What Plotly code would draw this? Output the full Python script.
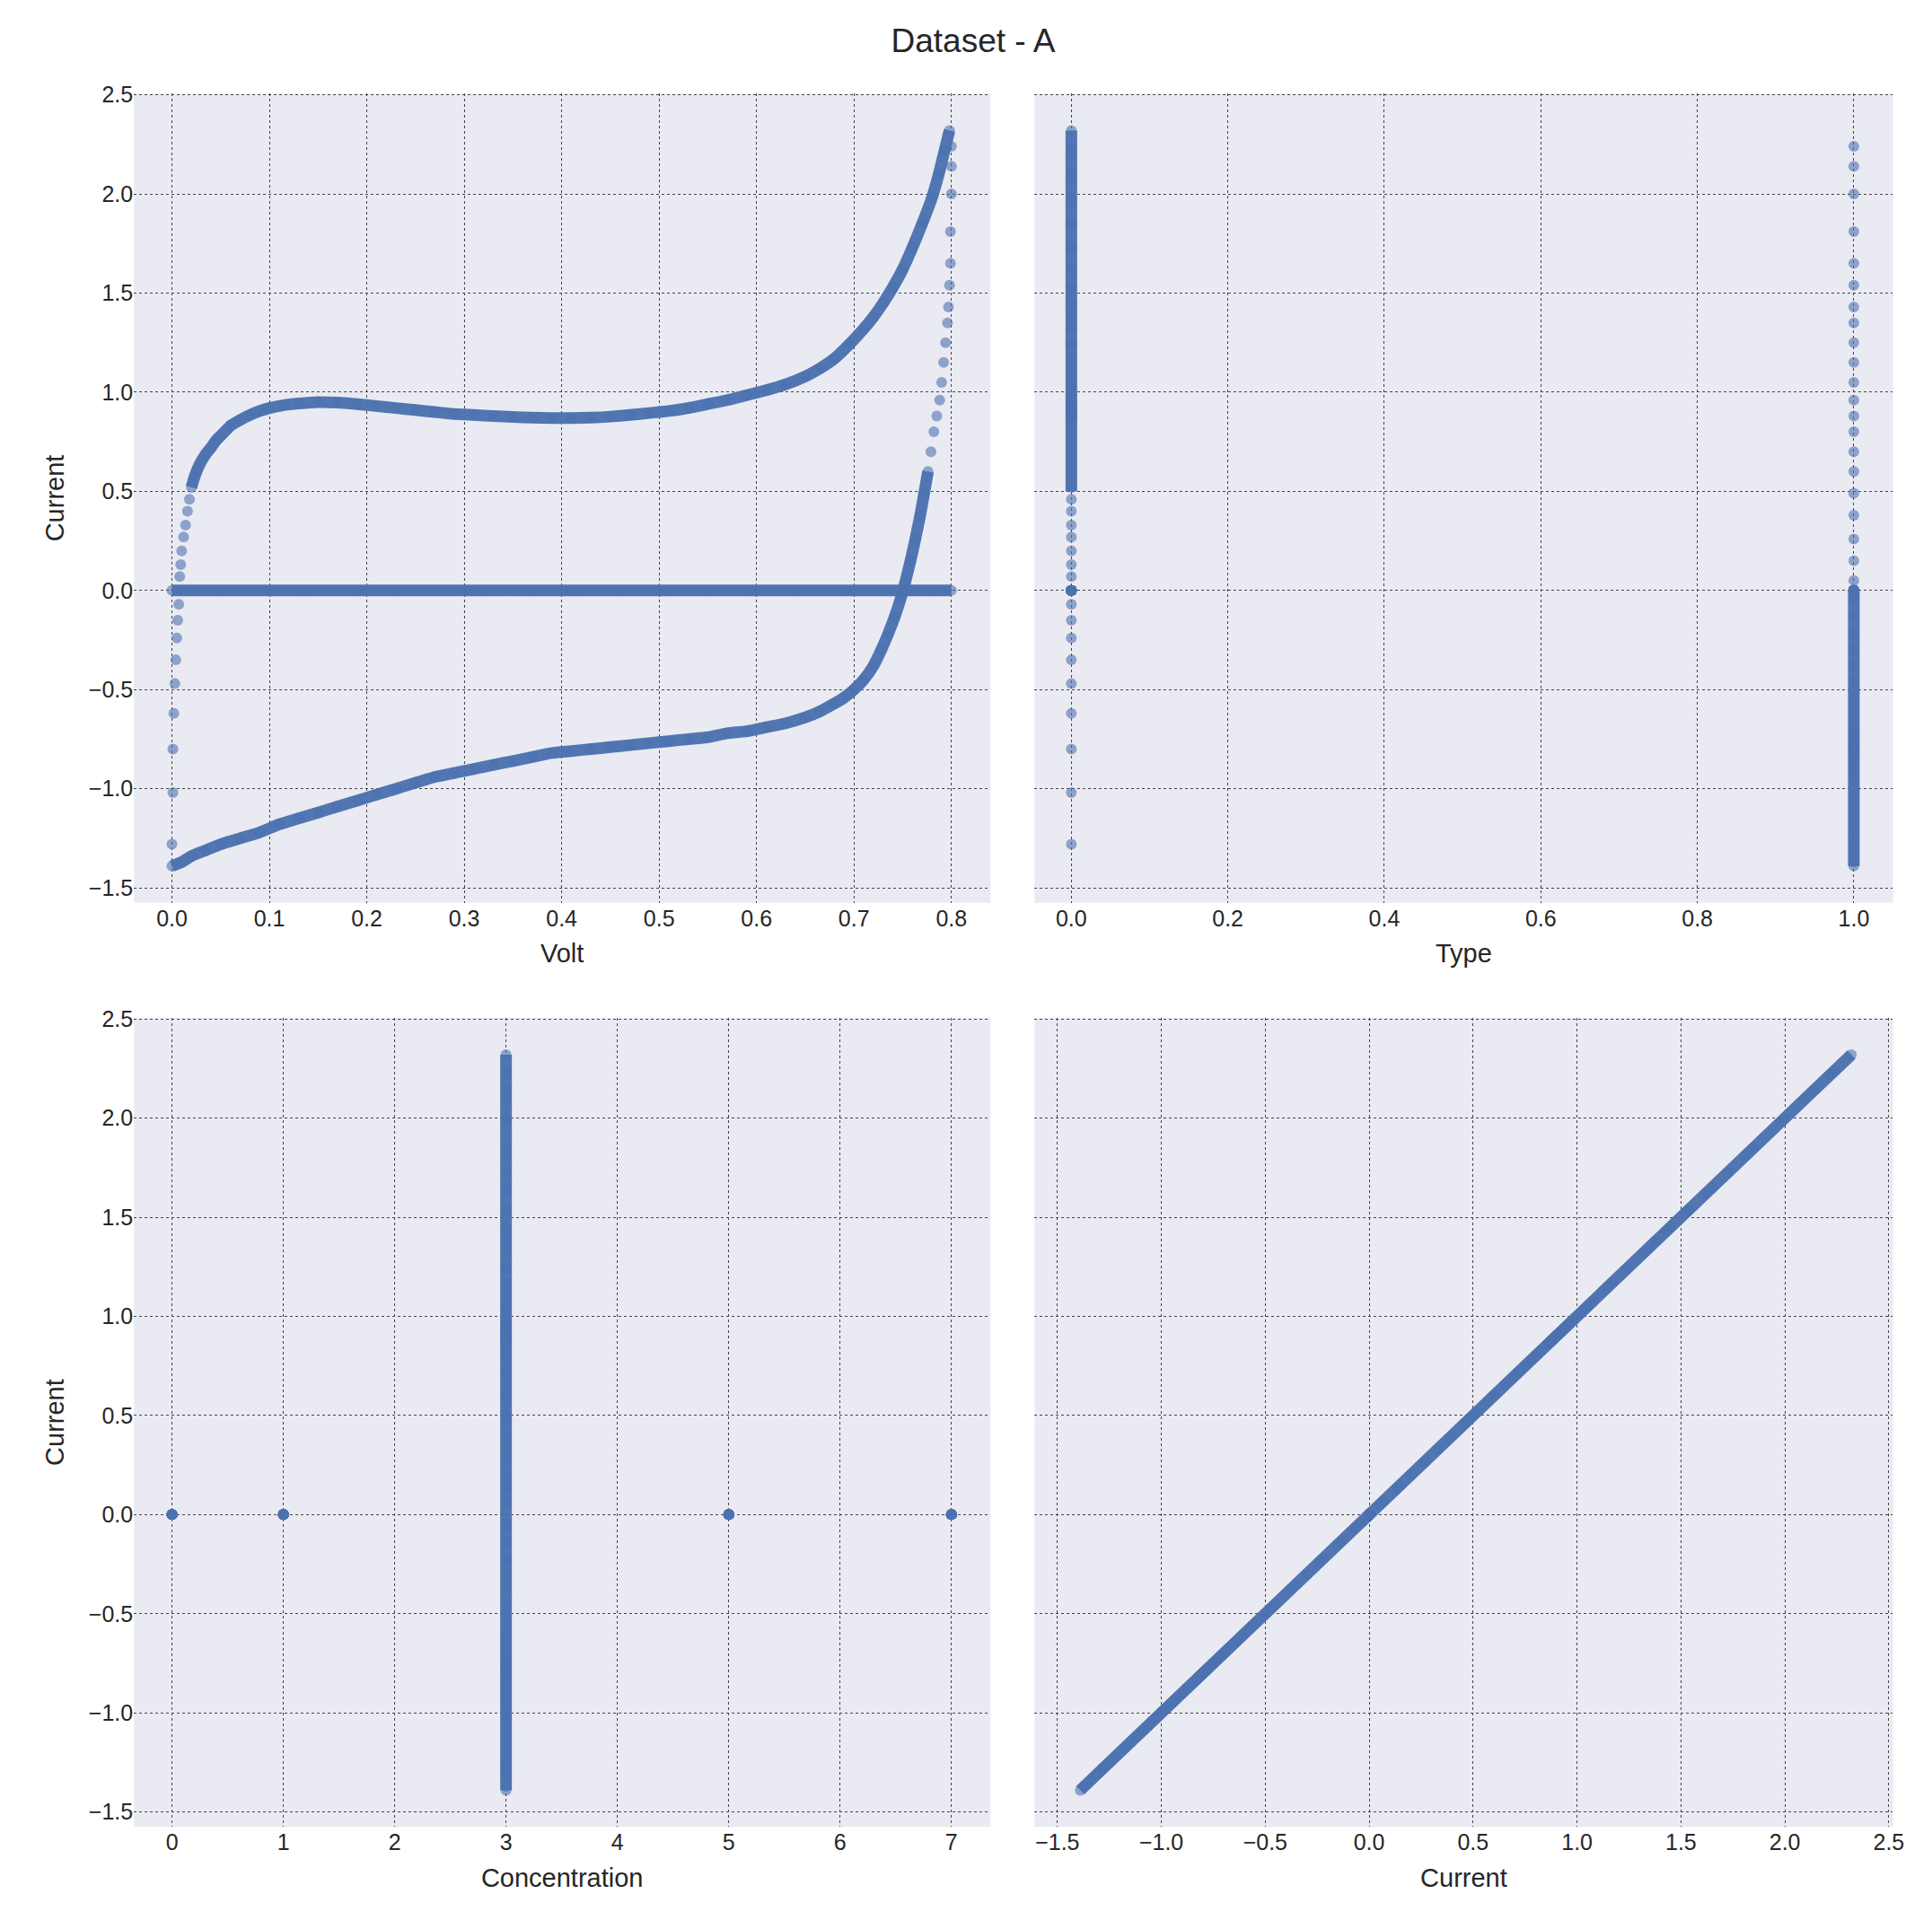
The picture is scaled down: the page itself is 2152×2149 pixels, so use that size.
import plotly.graph_objects as go

# forward branch (Type 0, Concentration 3)
up_volt = [0.0, 0.001, 0.001, 0.002, 0.003, 0.004, 0.005, 0.006, 0.007,
           0.008, 0.009, 0.010, 0.012, 0.014, 0.016, 0.018, 0.020, 0.023, 0.026, 0.030,
           0.035, 0.040, 0.045, 0.050, 0.060, 0.070, 0.080, 0.090, 0.100, 0.115, 0.130,
           0.150, 0.170, 0.190, 0.210, 0.230, 0.250, 0.270, 0.290, 0.310, 0.330, 0.350,
           0.370, 0.390, 0.410, 0.430, 0.450, 0.470, 0.490, 0.510, 0.530, 0.550, 0.570,
           0.590, 0.610, 0.630, 0.650, 0.665, 0.680, 0.695, 0.710, 0.720, 0.730, 0.740,
           0.750, 0.760, 0.770, 0.780, 0.787, 0.793, 0.798]
up_curr = [-1.28, -1.02, -0.80, -0.62, -0.47, -0.35, -0.24, -0.15, -0.07,
           0.07, 0.13, 0.20, 0.27, 0.33, 0.40, 0.46, 0.52, 0.57, 0.61, 0.65,
           0.69, 0.72, 0.755, 0.78, 0.83, 0.86, 0.885, 0.905, 0.92, 0.935, 0.943,
           0.95, 0.948, 0.94, 0.93, 0.92, 0.91, 0.90, 0.89, 0.885, 0.88, 0.875,
           0.872, 0.87, 0.87, 0.872, 0.877, 0.885, 0.895, 0.905, 0.92, 0.94, 0.96,
           0.985, 1.01, 1.04, 1.08, 1.12, 1.17, 1.24, 1.32, 1.38, 1.45, 1.53,
           1.62, 1.73, 1.85, 1.98, 2.10, 2.22, 2.32]

# reverse branch (Type 1, Concentration 3)
lo_volt = [0.0, 0.010, 0.020, 0.035, 0.050, 0.070, 0.090, 0.110, 0.130, 0.150,
           0.170, 0.190, 0.210, 0.230, 0.250, 0.270, 0.290, 0.310, 0.330, 0.350,
           0.370, 0.390, 0.410, 0.430, 0.450, 0.470, 0.490, 0.510, 0.530, 0.550,
           0.570, 0.590, 0.610, 0.630, 0.650, 0.665, 0.680, 0.690, 0.700, 0.710,
           0.720, 0.728, 0.735, 0.742, 0.748, 0.753, 0.758, 0.763, 0.768, 0.772,
           0.776, 0.779, 0.782, 0.785, 0.788, 0.790, 0.792, 0.794, 0.796, 0.797,
           0.798, 0.799, 0.799, 0.800, 0.800, 0.800]
lo_curr = [-1.39, -1.37, -1.34, -1.31, -1.28, -1.25, -1.22, -1.18, -1.15, -1.12,
           -1.09, -1.06, -1.03, -1.00, -0.97, -0.94, -0.92, -0.90, -0.88, -0.86,
           -0.84, -0.82, -0.81, -0.80, -0.79, -0.78, -0.77, -0.76, -0.75, -0.74,
           -0.72, -0.71, -0.69, -0.67, -0.64, -0.61, -0.57, -0.54, -0.50, -0.45,
           -0.38, -0.30, -0.22, -0.13, -0.04, 0.05, 0.15, 0.26, 0.38, 0.49,
           0.60, 0.70, 0.80, 0.88, 0.96, 1.05, 1.15, 1.25, 1.35, 1.43,
           1.54, 1.65, 1.81, 2.00, 2.14, 2.24]

# zero-current rows (Concentration 0, 1, 5, 7)
zero_volt = [0.00, 0.01, 0.02, 0.03, 0.04, 0.05, 0.06, 0.07, 0.08, 0.09,
             0.10, 0.11, 0.12, 0.13, 0.14, 0.15, 0.16, 0.17, 0.18, 0.19,
             0.20, 0.21, 0.22, 0.23, 0.24, 0.25, 0.26, 0.27, 0.28, 0.29,
             0.30, 0.31, 0.32, 0.33, 0.34, 0.35, 0.36, 0.37, 0.38, 0.39,
             0.40, 0.41, 0.42, 0.43, 0.44, 0.45, 0.46, 0.47, 0.48, 0.49,
             0.50, 0.51, 0.52, 0.53, 0.54, 0.55, 0.56, 0.57, 0.58, 0.59,
             0.60, 0.61, 0.62, 0.63, 0.64, 0.65, 0.66, 0.67, 0.68, 0.69,
             0.70, 0.71, 0.72, 0.73, 0.74, 0.75, 0.76, 0.77, 0.78, 0.79, 0.80]
zero_conc_levels = [0, 1, 5, 7]
zero_types = [0, 1]

volt = up_volt + lo_volt + zero_volt
typ = [0] * len(up_volt) + [1] * len(lo_volt) + [zero_types[i % 2] for i in range(len(zero_volt))]
conc = [3] * (len(up_volt) + len(lo_volt)) + [zero_conc_levels[i % 4] for i in range(len(zero_volt))]
curr = up_curr + lo_curr + [0.0] * len(zero_volt)

BLUE = "rgba(76,114,176,0.6)"
SOLID = "rgba(76,114,176,0.97)"
MS = 12
LW = 13

fig = go.Figure()

def add(x, y, xa, ya, dense=None):
    if dense is not None:
        for dx, dy in dense:
            fig.add_trace(go.Scatter(x=dx, y=dy, mode="lines", xaxis=xa, yaxis=ya,
                                     line=dict(color=SOLID, width=LW, shape="spline", smoothing=0.6),
                                     showlegend=False, hoverinfo="skip"))
    fig.add_trace(go.Scatter(x=x, y=y, mode="markers", xaxis=xa, yaxis=ya,
                             marker=dict(color=BLUE, size=MS, line=dict(width=0)),
                             showlegend=False))

n0 = 9
add(volt, curr, "x", "y",
    dense=[(up_volt[n0 + 7:], up_curr[n0 + 7:]), (lo_volt[:51], lo_curr[:51]), (zero_volt, [0.0] * len(zero_volt))])
add(typ, curr, "x2", "y2",
    dense=[([0] * 2, [0.5, max(up_curr)]), ([1] * 2, [min(lo_curr), 0.0])])
add(conc, curr, "x3", "y3",
    dense=[([3] * 2, [min(lo_curr), max(up_curr)])])
add(curr, curr, "x4", "y4",
    dense=[([min(lo_curr), max(up_curr)], [min(lo_curr), max(up_curr)])])

grid = dict(showgrid=True, gridcolor="#444", griddash="dot", gridwidth=1.3, zeroline=False,
            showline=False, ticks="", tickfont=dict(size=25, color="#262626"))
tfont = dict(size=29, color="#262626")
xd1, xd2 = [0.066, 0.512], [0.535, 0.982]
yd1, yd2 = [0.539, 0.961], [0.057, 0.479]
yr = [-1.575, 2.506]

fig.update_layout(
    width=2152, height=2149,
    margin=dict(l=0, r=0, t=0, b=0),
    paper_bgcolor="white", plot_bgcolor="#eaeaf2",
    font=dict(family="Liberation Sans, Arial", color="#262626"),
    title=dict(text="Dataset - A", x=0.5, xanchor="center", y=0.989, yanchor="top",
               font=dict(size=37)),
    xaxis=dict(domain=xd1, anchor="y", range=[-0.039, 0.840], dtick=0.1, tickformat=".1f",
               title=dict(text="Volt", font=tfont, standoff=16), **grid),
    yaxis=dict(domain=yd1, anchor="x", range=yr, dtick=0.5, tickformat=".1f",
               title=dict(text="Current", font=tfont, standoff=18), **grid),
    xaxis2=dict(domain=xd2, anchor="y2", range=[-0.047, 1.050], dtick=0.2, tickformat=".1f",
                title=dict(text="Type", font=tfont, standoff=16), **grid),
    yaxis2=dict(domain=yd1, anchor="x2", range=yr, dtick=0.5, showticklabels=False, **grid),
    xaxis3=dict(domain=xd1, anchor="y3", range=[-0.342, 7.35], dtick=1,
                title=dict(text="Concentration", font=tfont, standoff=16), **grid),
    yaxis3=dict(domain=yd2, anchor="x3", range=yr, dtick=0.5, tickformat=".1f",
                title=dict(text="Current", font=tfont, standoff=18), **grid),
    xaxis4=dict(domain=xd2, anchor="y4", range=[-1.61, 2.52], dtick=0.5, tickformat=".1f",
                title=dict(text="Current", font=tfont, standoff=16), **grid),
    yaxis4=dict(domain=yd2, anchor="x4", range=yr, dtick=0.5, showticklabels=False, **grid),
)

fig.write_html("out.html")
